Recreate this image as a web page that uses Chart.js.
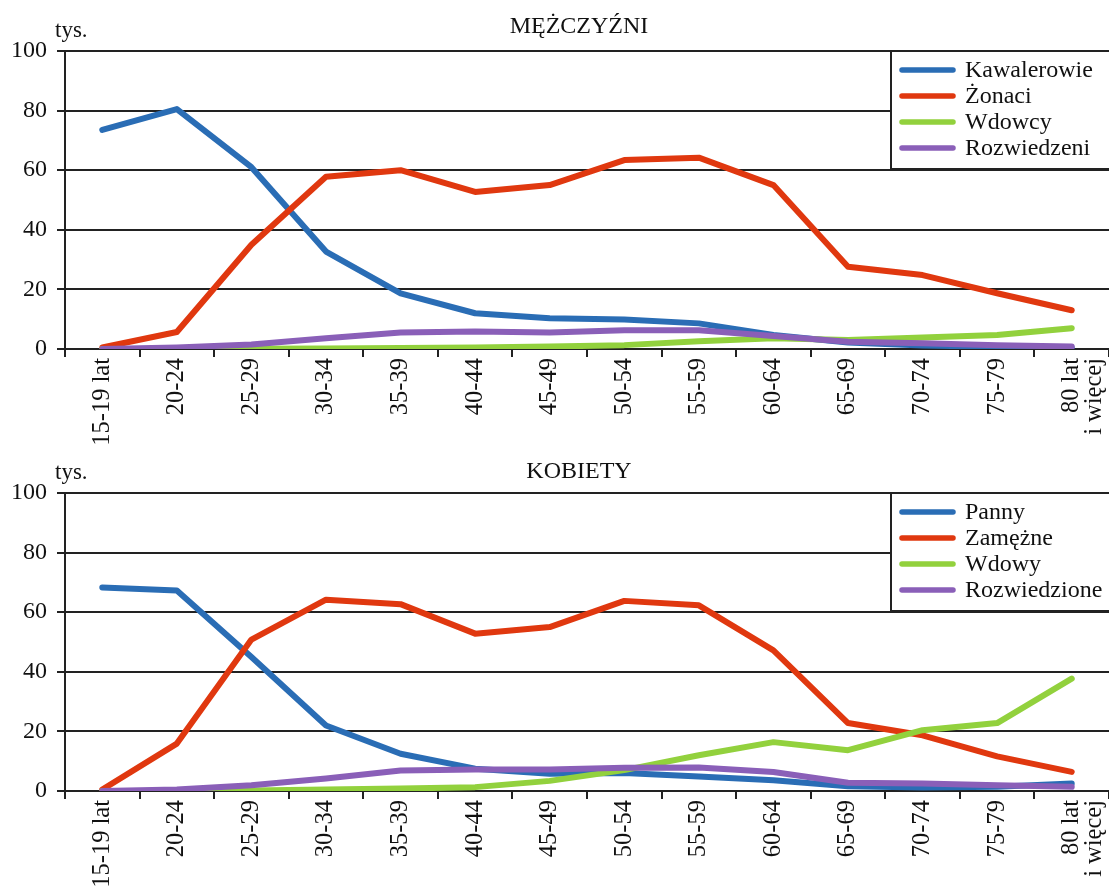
<!DOCTYPE html>
<html lang="pl">
<head>
<meta charset="utf-8">
<title>Stan cywilny</title>
<script src="https://cdn.jsdelivr.net/npm/chart.js@4"></script>
<style>
  body { margin: 0; background: #fff; overflow: hidden; }
  .box { position: relative; width: 1109px; }
  canvas { display: block; }
</style>
</head>
<body>
<div class="box"><canvas id="menChart" width="1109" height="445"></canvas></div>
<div class="box"><canvas id="womenChart" width="1109" height="446"></canvas></div>
<script>
// Grupy wieku
const ageGroups = ['15-19 lat', '20-24', '25-29', '30-34', '35-39', '40-44', '45-49',
    '50-54', '55-59', '60-64', '65-69', '70-74', '75-79', ['80 lat', 'i więcej']];

// Mężczyźni (tys.)
const kawalerowie = [73.5, 80.5, 61, 32.7, 18.7, 12, 10.3, 9.9, 8.6, 4.7, 2.2, 1.2, 0.7, 0.4];
const zonaci = [0.5, 5.7, 35, 57.8, 60, 52.7, 55, 63.4, 64.2, 55, 27.6, 24.8, 18.7, 13];
const wdowcy = [0, 0, 0.1, 0.2, 0.3, 0.5, 0.8, 1.3, 2.6, 3.6, 3, 3.9, 4.7, 7];
const rozwiedzeni = [0, 0.5, 1.5, 3.6, 5.5, 5.9, 5.5, 6.3, 6.3, 4.4, 2.4, 1.9, 1.3, 0.8];

// Kobiety (tys.)
const panny = [68.3, 67.3, 45, 22, 12.5, 7.5, 5.8, 6, 4.9, 3.6, 1.6, 1.2, 1.4, 2.5];
const zamezne = [0.5, 15.9, 50.8, 64.2, 62.7, 52.8, 55, 63.8, 62.3, 47.2, 22.8, 18.7, 11.6, 6.4];
const wdowy = [0, 0, 0.2, 0.5, 0.8, 1.3, 3.4, 7, 12, 16.4, 13.7, 20.4, 22.8, 37.7];
const rozwiedzione = [0, 0.5, 1.9, 4.2, 6.9, 7.2, 7.2, 7.8, 7.9, 6.4, 2.8, 2.5, 1.9, 1.4];

const yTicks = [0, 20, 40, 60, 80, 100];

const colors = ['#2a6db5', '#e0380f', '#92d13d', '#8a5fb8'];
const serif = "'Liberation Serif', 'DejaVu Serif', serif";

function makeDatasets(labels, series) {
    return series.map((data, i) => ({
        label: labels[i],
        data: data,
        borderColor: colors[i],
        backgroundColor: colors[i],
        borderWidth: 6,
        borderCapStyle: 'round',
        borderJoinStyle: 'round',
        pointRadius: 0,
        tension: 0,
        fill: false,
        order: 3 - i
    }));
}

// Tytuł, "tys." i legenda w ramce wewnątrz obszaru wykresu
const decorPlugin = {
    id: 'decor',
    afterDatasetsDraw(chart, args, opts) {
        const ctx = chart.ctx;
        const ca = chart.chartArea;
        ctx.save();
        ctx.fillStyle = '#111';
        ctx.font = '24px ' + serif;
        ctx.textBaseline = 'alphabetic';
        ctx.textAlign = 'center';
        ctx.fillText(opts.title, (ca.left + ca.right) / 2 - 8, ca.top - opts.titleGap);
        ctx.textAlign = 'left';
        ctx.font = '23px ' + serif;
        ctx.fillText('tys.', ca.left - 10, ca.top - 14);

        // legenda
        const w = 218, h = 118;
        const x0 = ca.right - w, y0 = ca.top;
        ctx.fillStyle = '#fff';
        ctx.fillRect(x0, y0 + 1, w, h - 1);
        ctx.strokeStyle = '#222';
        ctx.lineWidth = 2;
        ctx.beginPath();
        ctx.moveTo(x0, y0);
        ctx.lineTo(x0, y0 + h);
        ctx.lineTo(ca.right, y0 + h);
        ctx.stroke();

        ctx.font = '24px ' + serif;
        ctx.textBaseline = 'middle';
        chart.data.datasets.forEach((ds, i) => {
            const y = y0 + 19 + i * 26;
            ctx.strokeStyle = ds.borderColor;
            ctx.lineWidth = 5.5;
            ctx.lineCap = 'round';
            ctx.beginPath();
            ctx.moveTo(x0 + 11, y);
            ctx.lineTo(x0 + 62, y);
            ctx.stroke();
            ctx.fillStyle = '#111';
            ctx.fillText(ds.label, x0 + 74, y + 1);
        });
        ctx.restore();
    }
};

function makeOptions(title, titleGap, padTop, xHeight) {
    return {
        responsive: false,
        animation: false,
        layout: { padding: { top: padTop, left: 0, right: 0, bottom: 0 } },
        plugins: {
            legend: { display: false },
            tooltip: { enabled: false },
            decor: { title: title, titleGap: titleGap }
        },
        scales: {
            x: {
                offset: true,
                afterFit: (scale) => {
                    scale.height = xHeight;
                    scale.paddingLeft = 0;
                    scale.paddingRight = 0;
                },
                grid: {
                    offset: true,
                    drawOnChartArea: false,
                    drawTicks: true,
                    tickLength: 8,
                    color: '#222',
                    lineWidth: 2
                },
                border: { color: '#222', width: 2 },
                ticks: {
                    minRotation: 90,
                    maxRotation: 90,
                    autoSkip: false,
                    padding: 1,
                    color: '#111',
                    font: { family: serif, size: 24.5, lineHeight: 0.95 }
                }
            },
            y: {
                min: 0,
                max: 100,
                afterFit: (scale) => {
                    scale.width = 65;
                    scale.paddingTop = 0;
                    scale.paddingBottom = 0;
                },
                afterBuildTicks: (scale) => { scale.ticks = yTicks.map(v => ({ value: v })); },
                grid: {
                    color: '#222',
                    lineWidth: 2,
                    tickLength: 8
                },
                border: { color: '#222', width: 2 },
                ticks: {
                    padding: 10,
                    color: '#111',
                    font: { family: serif, size: 24 }
                }
            }
        }
    };
}

new Chart(document.getElementById('menChart').getContext('2d'), {
    type: 'line',
    data: {
        labels: ageGroups,
        datasets: makeDatasets(['Kawalerowie', 'Żonaci', 'Wdowcy', 'Rozwiedzeni'],
            [kawalerowie, zonaci, wdowcy, rozwiedzeni])
    },
    options: makeOptions('MĘŻCZYŹNI', 18, 51, 96),
    plugins: [decorPlugin]
});

new Chart(document.getElementById('womenChart').getContext('2d'), {
    type: 'line',
    data: {
        labels: ageGroups,
        datasets: makeDatasets(['Panny', 'Zamężne', 'Wdowy', 'Rozwiedzione'],
            [panny, zamezne, wdowy, rozwiedzione])
    },
    options: makeOptions('KOBIETY', 15, 48, 100),
    plugins: [decorPlugin]
});
</script>
</body>
</html>
